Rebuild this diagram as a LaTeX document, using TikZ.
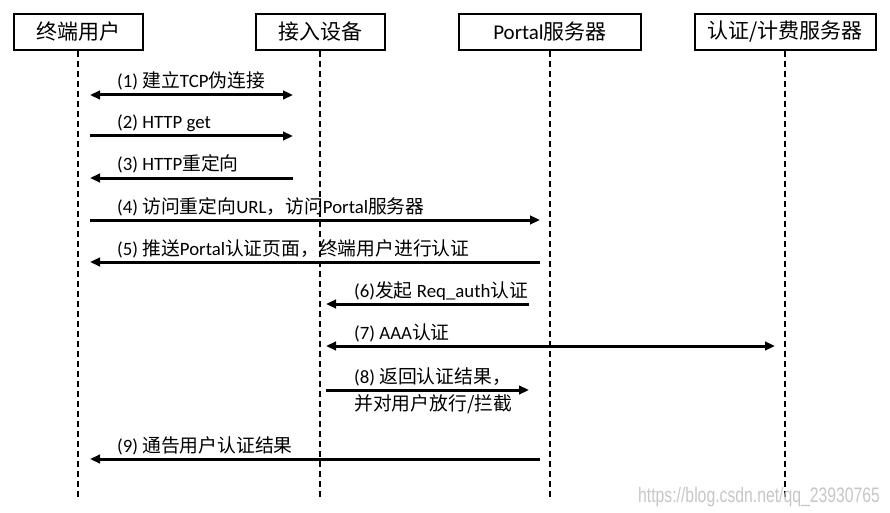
\documentclass[tikz,border=0pt]{standalone}
\usepackage{fontspec}
\setmainfont{Carlito}
\newfontfamily\cjk{Noto Sans CJK SC}
\newfontfamily\wmfont{Liberation Sans}
\usetikzlibrary{arrows.meta}
\newcommand{\zh}[1]{{\cjk #1}}
\begin{document}
\begin{tikzpicture}[x=1pt,y=-1pt,
  hdr/.style={draw, line width=2pt, minimum height=36pt, inner sep=0pt, font=\fontsize{21}{24}\selectfont},
  life/.style={line width=1.7pt, dash pattern=on 6pt off 4pt},
  tipA/.style={-{Triangle[length=10pt,width=8.5pt]}},
  tipB/.style={{Triangle[length=10pt,width=8.5pt]}-{Triangle[length=10pt,width=8.5pt]}},
  msg/.style={line width=3pt},
  lbl/.style={anchor=base west, inner sep=0pt, font=\fontsize{18.8}{21}\selectfont, text=black}]
\useasboundingbox (0,0) rectangle (890,513);
\fill[white] (0,0) rectangle (890,513);

% header boxes
\node[hdr, minimum width=129pt] (u) at (78,32) {\zh{终端用户}};
\node[hdr, minimum width=129pt] (a) at (320,32) {\zh{接入设备}};
\node[hdr, minimum width=182pt] (p) at (550,32) {Portal\zh{服务器}};
\node[hdr, minimum width=181pt] (s) at (785,32) {\zh{认证/计费服务器}};

% lifelines
\coordinate (ue) at (78,500);
\coordinate (ae) at (320,500);
\coordinate (pe) at (550,500);
\coordinate (se) at (785,500);
\draw[life] (u.south) -- (ue);
\draw[life] (a.south) -- (ae);
\draw[life] (p.south) -- (pe);
\draw[life] (s.south) -- (se);

% message end points
\coordinate (m1u) at (90,95);  \coordinate (m1a) at (293,95);
\coordinate (m2u) at (90,136); \coordinate (m2a) at (293,136);
\coordinate (m3u) at (90,178); \coordinate (m3a) at (293,178);
\coordinate (m4u) at (90,220); \coordinate (m4p) at (540,220);
\coordinate (m5u) at (90,262); \coordinate (m5p) at (540,262);
\coordinate (m6a) at (326,304); \coordinate (m6p) at (529,304);
\coordinate (m7a) at (326,346); \coordinate (m7s) at (775,346);
\coordinate (m8a) at (326,390); \coordinate (m8p) at (529,390);
\coordinate (m9u) at (90,459); \coordinate (m9p) at (540,459);

% messages
\draw[msg,tipB] (m1u) -- (m1a);
\draw[msg,tipA] (m2u) -- (m2a);
\draw[msg,tipA] (m3a) -- (m3u);
\draw[msg,tipA] (m4u) -- (m4p);
\draw[msg,tipA] (m5p) -- (m5u);
\draw[msg,tipA] (m6p) -- (m6a);
\draw[msg,tipB] (m7a) -- (m7s);
\draw[msg,tipA] (m8a) -- (m8p);
\draw[msg,tipA] (m9p) -- (m9u);

% labels
\node[lbl] (l1) at (117,88) {(1) \zh{建立}TCP\zh{伪连接}};
\node[lbl] (l2) at (117,129) {(2) HTTP get};
\node[lbl] (l3) at (117,171) {(3) HTTP\zh{重定向}};
\node[lbl] (l4) at (117,213) {(4) \zh{访问重定向}URL\zh{，访问}Portal\zh{服务器}};
\node[lbl] (l5) at (117,255) {(5) \zh{推送}Portal\zh{认证页面，终端用户进行认证}};
\node[lbl] (l6) at (354,297) {(6)\zh{发起} Req\_auth\zh{认证}};
\node[lbl] (l7) at (354,339) {(7) AAA\zh{认证}};
\node[lbl] (l8) at (354,383) {(8) \zh{返回认证结果，}};
\node[lbl] (l8b) at (354,410) {\zh{并对用户放行/拦截}};
\node[lbl] (l9) at (117,452) {(9) \zh{通告用户认证结果}};

% watermark
\node[anchor=base west, inner sep=0pt, text=black!22, font=\wmfont\fontsize{21}{22}\selectfont] (wm) at (638,502) {\scalebox{0.75}[1]{https://blog.csdn.net/qq\_23930765}};
\end{tikzpicture}
\end{document}
